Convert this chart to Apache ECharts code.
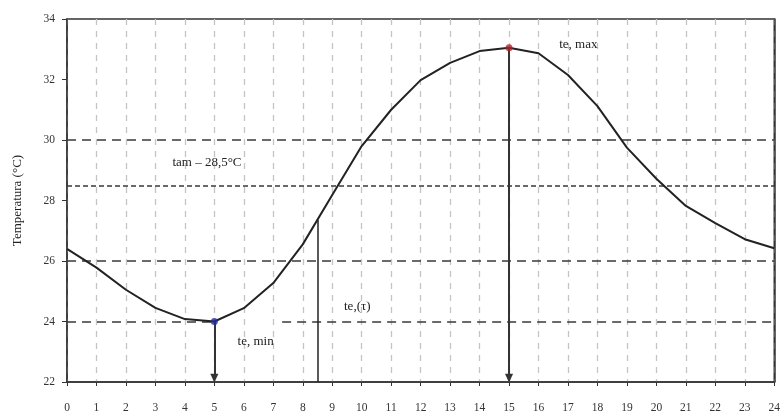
<!DOCTYPE html>
<html>
<head>
<meta charset="utf-8">
<style>
  html, body { margin: 0; padding: 0; background: #fff; }
  #chart { width: 783px; height: 419px; }
</style>
<script src="https://cdn.jsdelivr.net/npm/echarts@6/dist/echarts.min.js"></script>
</head>
<body>
<div id="chart"></div>
<script>
// Hourly outdoor temperature over one day
const hours = [0, 1, 2, 3, 4, 5, 6, 7, 8, 9, 10, 11, 12, 13, 14, 15, 16, 17, 18, 19, 20, 21, 22, 23, 24];
const temperature = [26.4, 25.78, 25.05, 24.45, 24.08, 24.0, 24.44, 25.27, 26.55, 28.18, 29.8, 31.0, 31.98,
                     32.55, 32.94, 33.05, 32.87, 32.15, 31.12, 29.75, 28.72, 27.82, 27.25, 26.72, 26.42];
const yTicks = [22, 24, 26, 28, 30, 32, 34];
const meanTemp = 28.5;
const refLevels = [30, 26];
const minHour = 5, maxHour = 15, sampleHour = 8.5;
const labels = {
  mean: 'tam – 28,5°C',
  max: 'te, max',
  min: 'te, min',
  sample: 'te,(τ)',
  yTitle: 'Temperatura (°C)'
};

// value of the hourly polyline at an arbitrary time
function valueAt(h) {
  const i = Math.floor(h);
  const f = h - i;
  return temperature[i] + (temperature[i + 1] - temperature[i]) * f;
}

const yMin = yTicks[0], yMax = yTicks[yTicks.length - 1];
const minVal = temperature[hours.indexOf(minHour)];
const maxVal = temperature[hours.indexOf(maxHour)];
const sampleVal = valueAt(sampleHour);

const serif = '"Liberation Serif", "DejaVu Serif", serif';
const dashWide = { type: [9, 6], color: '#3a3a3a', width: 1.6 };
const dashDense = { type: [5, 3], color: '#3a3a3a', width: 1.6 };

const chart = echarts.init(document.getElementById('chart'));

const textLabel = (x, y, text) => ({
  coord: [x, y], value: text, symbolSize: 0,
  label: { show: true, formatter: text, position: 'inside', color: '#222',
           fontFamily: serif, fontSize: 13 }
});

chart.setOption({
  animation: false,
  backgroundColor: '#fff',
  grid: { left: 67, right: 6, top: 19, bottom: 37, show: true, borderColor: '#333', borderWidth: 1.5,
          backgroundColor: 'transparent' },
  xAxis: {
    type: 'value', min: 0, max: 24, interval: 1,
    axisLine: { lineStyle: { color: '#333', width: 1.5 } },
    axisTick: { length: 4, lineStyle: { color: '#333' } },
    axisLabel: { margin: 20, color: '#333', fontFamily: serif, fontSize: 11.5 },
    splitLine: { show: true, lineStyle: { type: [6, 6], color: '#c4c4c4', width: 1.3 } }
  },
  yAxis: [
    {
      type: 'value', min: yMin, max: yMax, interval: 2,
      name: labels.yTitle, nameLocation: 'middle', nameGap: 43, nameRotate: 90,
      nameTextStyle: { color: '#222', fontFamily: serif, fontSize: 13 },
      axisLine: { show: true, lineStyle: { color: '#333', width: 1.5 } },
      axisTick: { show: true, length: 5, lineStyle: { color: '#333' } },
      axisLabel: { margin: 12, color: '#333', fontFamily: serif, fontSize: 11.5 },
      splitLine: { show: false }
    },
    {
      // right-hand frame edge
      type: 'value', position: 'right', min: yMin, max: yMax, interval: 2,
      axisLine: { show: true, lineStyle: { color: '#333', width: 1.5 } },
      axisTick: { show: false }, axisLabel: { show: false }, splitLine: { show: false }
    }
  ],
  series: [
    {
      type: 'line',
      data: hours.map((h, i) => [h, temperature[i]]),
      symbol: 'none',
      lineStyle: { color: '#222', width: 2 },
      z: 5,
      markLine: {
        silent: true, symbol: 'none', label: { show: false },
        data: [
          [{ coord: [0, refLevels[0]], lineStyle: dashWide }, { coord: [24, refLevels[0]] }],
          [{ coord: [0, meanTemp], lineStyle: dashDense }, { coord: [24, meanTemp] }],
          [{ coord: [0, refLevels[1]], lineStyle: dashWide }, { coord: [24, refLevels[1]] }],
          [{ coord: [0, minVal], lineStyle: dashWide }, { coord: [minHour, minVal] }],
          [{ coord: [7.3, minVal], lineStyle: dashWide }, { coord: [24, minVal] }],
          [{ coord: [sampleHour, yMin], lineStyle: { type: 'solid', color: '#222', width: 1.5 } },
           { coord: [sampleHour, sampleVal] }]
        ]
      },
      markPoint: {
        silent: true,
        data: [
          textLabel(4.75, 29.25, labels.mean),
          textLabel(17.35, 33.14, labels.max),
          textLabel(6.4, 23.32, labels.min),
          textLabel(9.85, 24.48, labels.sample)
        ]
      }
    },
    {
      // arrows from the extreme points down to the time axis
      type: 'line', data: [], silent: true,
      markLine: {
        silent: true, symbol: ['none', 'triangle'], symbolSize: [8, 9], label: { show: false },
        lineStyle: { type: 'solid', color: '#333', width: 2 },
        data: [
          [{ coord: [minHour, minVal] }, { coord: [minHour, yMin + 0.12] }],
          [{ coord: [maxHour, maxVal] }, { coord: [maxHour, yMin + 0.12] }]
        ]
      }
    },
    {
      type: 'scatter', z: 10, symbolSize: 7,
      data: [
        { value: [minHour, minVal], itemStyle: { color: '#1f2a9e' } },
        { value: [maxHour, maxVal], itemStyle: { color: '#b0262c' } }
      ]
    }
  ]
});
</script>
</body>
</html>
